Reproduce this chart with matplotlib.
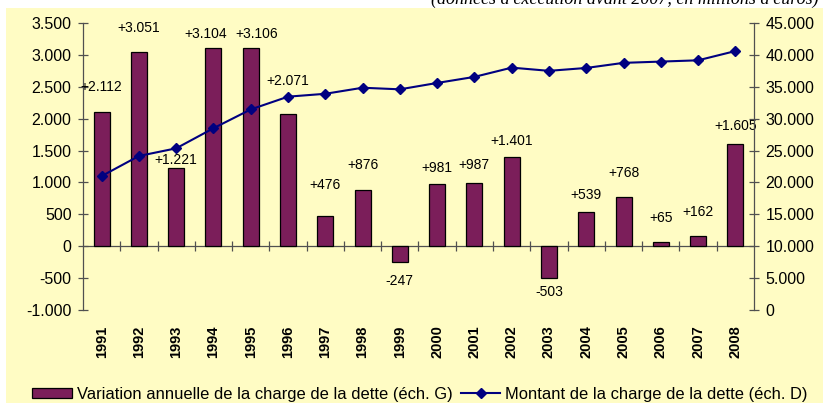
import numpy as np
import matplotlib
matplotlib.use("Agg")
from matplotlib import pyplot as plt
from matplotlib.patches import Rectangle

years = [str(y) for y in range(1991, 2009)]
variation = [2112, 3051, 1221, 3104, 3106, 2071, 476, 876, -247,
             981, 987, 1401, -503, 539, 768, 65, 162, 1605]
montant = [21000, 24150, 25350, 28500, 31450, 33450, 33900, 34850, 34600,
           35600, 36550, 38000, 37500, 37950, 38750, 38950, 39150, 40600]
# label placement as in the original (px): gap from bar end, side shift
label_gap = [25, 24, 8, 14, 14, 33, 31, 25, 19,
             16, 18, 16, 14, 17, 24, 24, 24, 18]
label_dx = [0, 0, 0, -8, 6, 0, 0, 0, 0,
            0, 0, 0, 0, 0, 0, 0, 0, 0]

bar_col = '#7B1E5A'
line_col = '#000080'
bg = '#FFFCC4'
spine_col = '#505050'

plt.rcParams['font.family'] = ['Liberation Sans', 'DejaVu Sans']


def fmt(v, sign=False):
    s = f"{abs(v):,.0f}".replace(',', '.')
    if v < 0:
        return '-' + s
    return ('+' + s) if sign else s


fig = plt.figure(figsize=(8.23, 4.03), dpi=100)
fig.patch.set_facecolor('white')
fig.add_artist(Rectangle((6 / 823, 0), 1, 1 - 8 / 403, transform=fig.transFigure,
                         facecolor=bg, edgecolor='none', zorder=0))

ax = fig.add_axes([83 / 823, 1 - 310 / 403, (754 - 83) / 823, (310 - 23) / 403])
ax.set_facecolor('none')
x = np.arange(len(years))

ax.bar(x, variation, width=0.43, color=bar_col, edgecolor='black', linewidth=0.9,
       zorder=2, label='Variation annuelle de la charge de la dette (éch. G)')
for xi, v, g, dx in zip(x, variation, label_gap, label_dx):
    dy = g * 0.72 if v >= 0 else -g * 0.72
    ax.annotate(fmt(v, sign=True), (xi, v), xytext=(dx * 0.72, dy),
                textcoords='offset points', ha='center', va='center',
                fontsize=10, zorder=5)

ax.set_xlim(-0.5, len(years) - 0.5)
ax.set_ylim(-1000, 3500)
yt = np.arange(-1000, 3501, 500)
ax.set_yticks(yt)
ax.set_yticklabels([fmt(v) for v in yt], fontsize=11.5)
ax.tick_params(axis='y', direction='inout', length=6.5, width=0.9, color=spine_col, pad=5)

ax.set_xticks(x)
ax.set_xticklabels(years, rotation=90, fontweight='bold', fontsize=10.5)
ax.tick_params(axis='x', length=0, pad=11)
ax.spines['bottom'].set_visible(False)
ax.spines['top'].set_visible(False)
ax.spines['right'].set_visible(False)
ax.spines['left'].set_color(spine_col)
ax.spines['left'].set_linewidth(0.9)

# category axis drawn at zero with ticks between the bars
sec = ax.secondary_xaxis(1000 / 4500)
sec.set_xticks(np.arange(0.5, len(years) - 1, 1.0))
sec.set_xticklabels([])
sec.tick_params(direction='inout', length=6.5, width=0.9, color=spine_col)
sec.spines['bottom'].set_color(spine_col)
sec.spines['bottom'].set_linewidth(0.9)

ax2 = ax.twinx()
ax2.plot(x, montant, color=line_col, linewidth=1.5, marker='D', markersize=5.5,
         label='Montant de la charge de la dette (éch. D)', zorder=3)
ax2.set_ylim(0, 45000)
yt2 = np.arange(0, 45001, 5000)
ax2.set_yticks(yt2)
ax2.set_yticklabels([fmt(v) for v in yt2], fontsize=11.5)
ax2.tick_params(axis='y', direction='inout', length=6.5, width=0.9, color=spine_col, pad=5)
for s in ['top', 'bottom', 'left']:
    ax2.spines[s].set_visible(False)
ax2.spines['right'].set_color(spine_col)
ax2.spines['right'].set_linewidth(0.9)

h1, l1 = ax.get_legend_handles_labels()
h2, l2 = ax2.get_legend_handles_labels()
fig.legend(h1 + h2, l1 + l2, loc='center', bbox_to_anchor=(420 / 823, 1 - 394 / 403),
           ncol=2, frameon=False, fontsize=11.9, handlelength=2.4, handleheight=0.55,
           columnspacing=0.5, handletextpad=0.3, borderpad=0)

fig.text(819 / 823, 1 - 4 / 403, "(données d'exécution avant 2007, en millions d'euros)",
         ha='right', va='baseline', style='italic', fontsize=13,
         family=['Liberation Serif', 'DejaVu Serif'])

fig.savefig('out.png', dpi=100)
